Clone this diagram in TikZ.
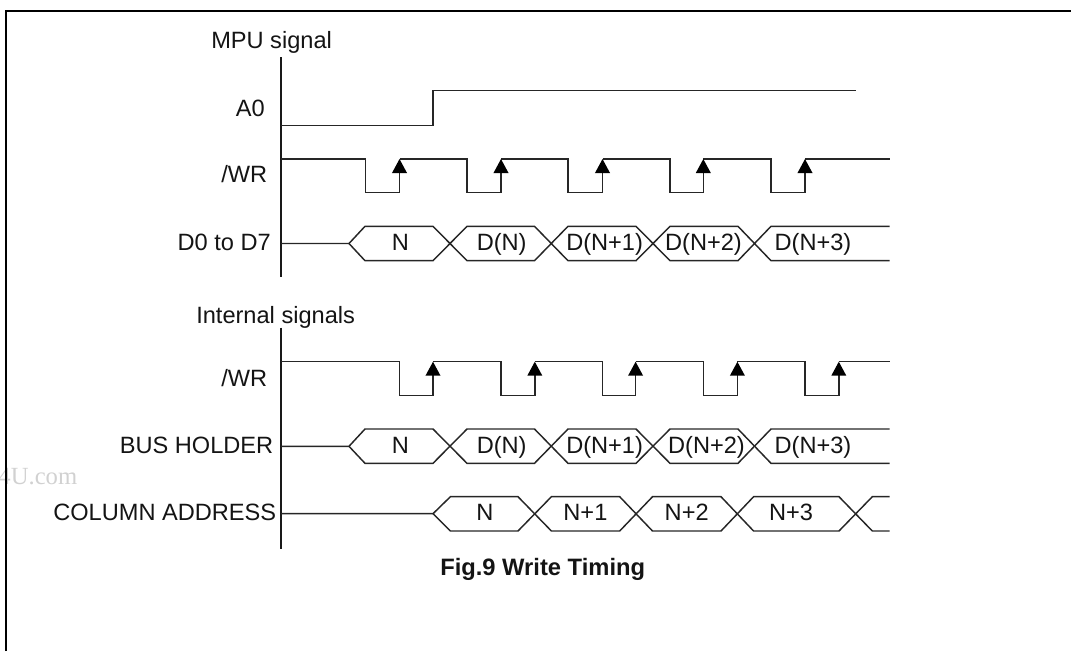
\documentclass[tikz,border=0pt]{standalone}
\usepackage{fontspec}
\setmainfont{Liberation Sans}
\newfontfamily\wmfont{Liberation Serif}
\usetikzlibrary{arrows.meta}
\tikzset{
  sig/.style={line width=1.1pt,black!85,line join=miter},
  axisline/.style={line width=1.2pt,black!90},
  frameline/.style={line width=1.6pt,black},
  lab/.style={font=\fontsize{17.7pt}{20pt}\selectfont,inner sep=0pt,text=black!92},
  lbl/.style={lab,anchor=base east},
  val/.style={lab,anchor=base},
  ttl/.style={lab,anchor=base west},
  figcap/.style={font=\bfseries\fontsize{17.8pt}{20pt}\selectfont,inner sep=0pt,anchor=base west,text=black!92},
  riseedge/.style={sig,-{Triangle[length=10.5pt,width=11pt,black]}},
  mark4u/.style={font=\wmfont\fontsize{18.5pt}{20pt}\selectfont,inner sep=0pt,anchor=base east,text=black!18}
}
\begin{document}
\begin{tikzpicture}[x=0.75pt,y=-0.75pt]
\useasboundingbox (0,0) rectangle (1071,651);
\clip (0,0) rectangle (1071,651);
% watermark
\node[mark4u] (wm) at (77.5,484) {4U.com};
% frame
\draw[frameline] (6,651) -- (6,11) -- (1071,11);
% axes
\coordinate (a1t) at (281,57); \coordinate (a1b) at (281,277);
\coordinate (a2t) at (281,327.5); \coordinate (a2b) at (281,548.5);
\draw[axisline] (a1t) -- (a1b);
\draw[axisline] (a2t) -- (a2b);
% A0
\draw[sig] (281,125.5) -- (433,125.5) -- (433,90.7) -- (856,90.7);
% MPU /WR
\draw[sig] (281,159) -- (365.7,159) -- (365.7,192.7) -- (399.5,192.7);
\draw[sig] (399.5,159) -- (467,159) -- (467,192.7) -- (501,192.7);
\draw[sig] (501,159) -- (568,159) -- (568,192.7) -- (602.5,192.7);
\draw[sig] (602.5,159) -- (669.8,159) -- (669.8,192.7) -- (703.3,192.7);
\draw[sig] (703.3,159) -- (771,159) -- (771,192.7) -- (805,192.7);
\draw[sig] (805,159) -- (889.5,159);
\foreach \x in {399.5,501,602.5,703.3,805} \draw[riseedge] (\x,192.7) -- (\x,159);
% Internal /WR
\draw[sig] (281,361.7) -- (399.5,361.7) -- (399.5,395.7) -- (433,395.7);
\draw[sig] (433,361.7) -- (501,361.7) -- (501,395.7) -- (534.8,395.7);
\draw[sig] (534.8,361.7) -- (602.5,361.7) -- (602.5,395.7) -- (635.6,395.7);
\draw[sig] (635.6,361.7) -- (703.6,361.7) -- (703.6,395.7) -- (737.4,395.7);
\draw[sig] (737.4,361.7) -- (805,361.7) -- (805,395.7) -- (838.8,395.7);
\draw[sig] (838.8,361.7) -- (889.5,361.7);
\foreach \x in {433,534.8,635.6,737.4,838.8} \draw[riseedge] (\x,395.7) -- (\x,361.7);
% Data rows D0..D7 and BUS HOLDER
\foreach \c/\t/\b in {243.5/226.3/260.7,446.3/429/463.3}{
  \draw[sig] (281,\c) -- (349,\c) -- (365,\t) -- (433,\t) -- (467,\b) -- (534.5,\b) -- (568,\t) -- (636,\t) -- (670,\b) -- (738,\b) -- (771,\t) -- (889.5,\t);
  \draw[sig] (349,\c) -- (365,\b) -- (433,\b) -- (467,\t) -- (534.5,\t) -- (568,\b) -- (636,\b) -- (670,\t) -- (738,\t) -- (771,\b) -- (889.5,\b);
}
% COLUMN ADDRESS
\draw[sig] (281,513.7) -- (433,513.7) -- (450.4,496.7) -- (518,496.7) -- (551.4,531) -- (619.7,531) -- (652.5,496.7) -- (721,496.7) -- (753.6,531) -- (839,531) -- (872.3,496.7) -- (889.5,496.7);
\draw[sig] (433,513.7) -- (450.4,531) -- (518,531) -- (551.4,496.7) -- (619.7,496.7) -- (652.5,531) -- (721,531) -- (753.6,496.7) -- (839,496.7) -- (872.3,531) -- (889.5,531);
% labels
\node[ttl] (mpu) at (211,48) {MPU signal};
\node[ttl] (int) at (196,323) {Internal signals};
\node[lbl] (a0) at (265,116) {A0};
\node[lbl] (wr1) at (267.5,182.7) {/WR};
\node[lbl] (d07) at (271,250.7) {D0 to D7};
\node[lbl] (wr2) at (267.5,386) {/WR};
\node[lbl] (bus) at (273.5,453.3) {BUS HOLDER};
\node[lbl] (col) at (276.5,520.5) {COLUMN ADDRESS};
% values
\foreach \y/\r in {250.7/d,453.3/b}{
  \node[val] (\r0) at (400.5,\y) {N};
  \node[val] (\r1) at (501.7,\y) {D(N)};
  \node[val] (\r2) at (604.6,\y) {D(N+1)};
  \node[val] (\r4) at (813,\y) {D(N+3)};
}
\node[val] (d3) at (703.5,250.7) {D(N+2)};
\node[val] (b3) at (706.5,453.3) {D(N+2)};
\node[val] (c0) at (485,520) {N};
\node[val] (c1) at (585.4,520) {N+1};
\node[val] (c2) at (686.7,520) {N+2};
\node[val] (c3) at (791,520) {N+3};
\node[figcap] (fig) at (440,575) {Fig.9 Write Timing};
\end{tikzpicture}
\end{document}
